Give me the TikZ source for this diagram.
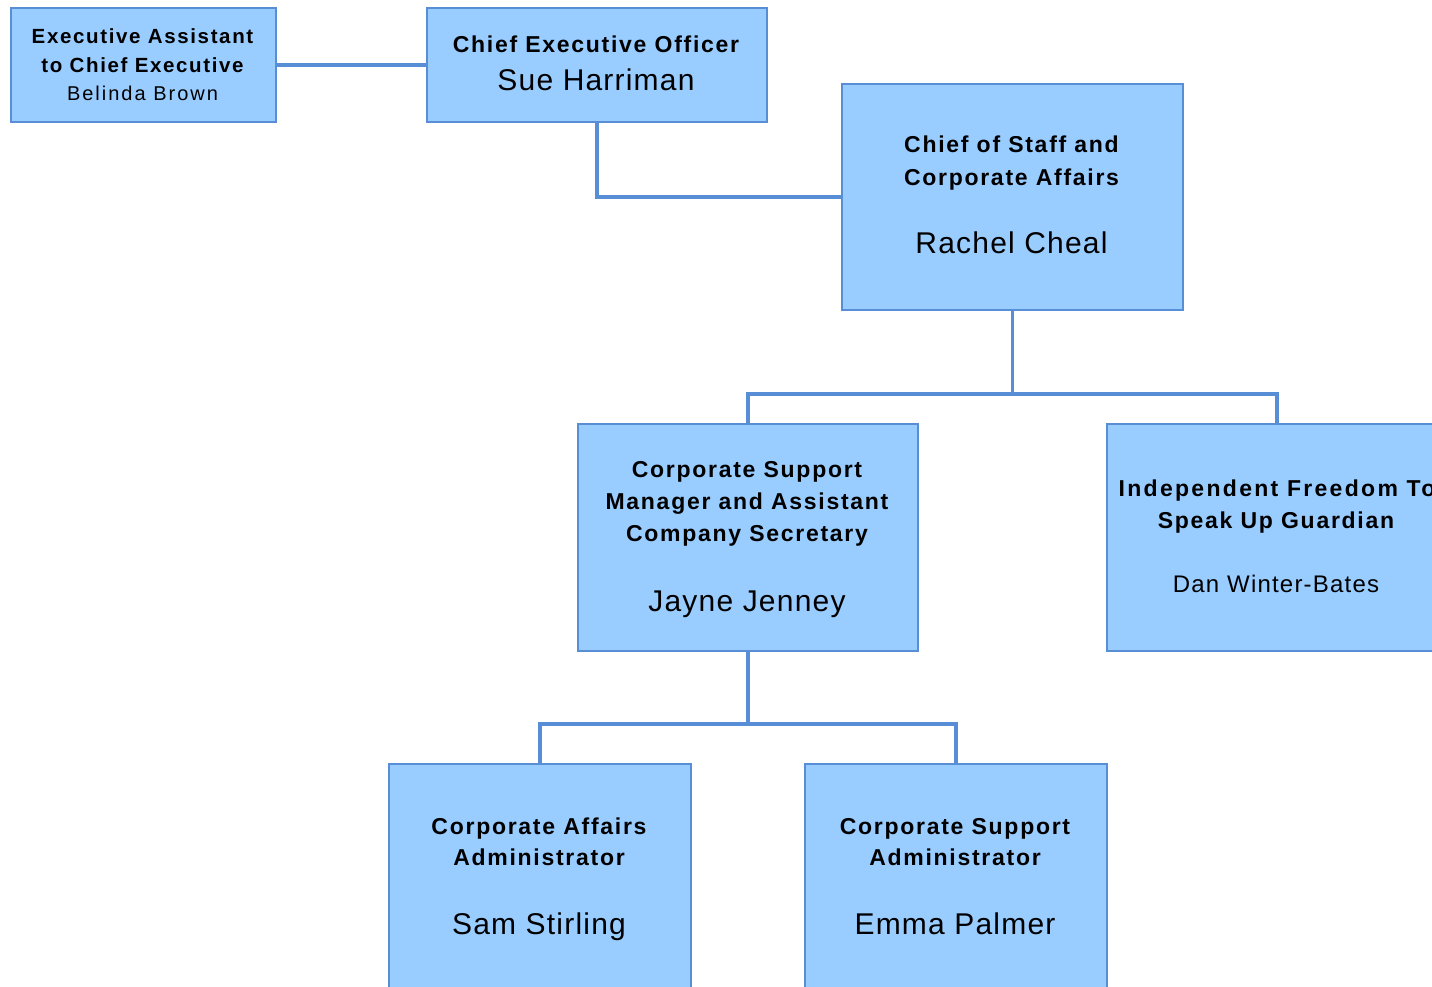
\documentclass[tikz,border=0pt]{standalone}
\usepackage{fontspec}
\setmainfont{Liberation Sans}
\newfontfamily\titlefam[LetterSpace=7.5]{Liberation Sans}
\newfontfamily\widetitlefam[LetterSpace=10]{Liberation Sans}
\newfontfamily\namefam[LetterSpace=4]{Liberation Sans}
\newfontfamily\smallfam[LetterSpace=8]{Liberation Sans}
\newfontfamily\smallnfam[LetterSpace=10]{Liberation Sans}
\newfontfamily\midfam[LetterSpace=5]{Liberation Sans}
\definecolor{boxfill}{RGB}{153,204,255}
\definecolor{boxline}{RGB}{88,142,214}
\tikzset{
  orgbox/.style={draw=boxline, fill=boxfill, line width=2pt, anchor=north west, inner sep=0pt},
  conn/.style={draw=boxline, line width=3.4pt},
  ttl/.style={anchor=base, inner sep=0pt, font=\titlefam\bfseries\fontsize{23}{27}\selectfont},
  wttl/.style={anchor=base, inner sep=0pt, font=\widetitlefam\bfseries\fontsize{23}{27}\selectfont},
  nme/.style={anchor=base, inner sep=0pt, font=\namefam\fontsize{30}{34}\selectfont},
  sttl/.style={anchor=base, inner sep=0pt, font=\smallfam\bfseries\fontsize{20.5}{24}\selectfont},
  snme/.style={anchor=base, inner sep=0pt, font=\smallnfam\fontsize{20}{24}\selectfont},
  mnme/.style={anchor=base, inner sep=0pt, font=\midfam\fontsize{24}{28}\selectfont},
}
\begin{document}
\begin{tikzpicture}[x=1pt, y=-1pt]
\useasboundingbox (0,0) rectangle (1432,986);
\clip (0,0) rectangle (1432,986);
% boxes
\node[orgbox, minimum width=265pt, minimum height=114pt] (ea) at (10,7) {};
\node[orgbox, minimum width=340pt, minimum height=114pt] (ceo) at (426,7) {};
\node[orgbox, minimum width=341pt, minimum height=226pt] (cos) at (841,83) {};
\node[orgbox, minimum width=340pt, minimum height=227pt] (csm) at (577,423) {};
\node[orgbox, minimum width=340pt, minimum height=227pt] (ifg) at (1106,423) {};
\node[orgbox, minimum width=302pt, minimum height=227pt] (caa) at (388,763) {};
\node[orgbox, minimum width=302pt, minimum height=227pt] (csa) at (804,763) {};
% connectors
\coordinate (j1) at (0,394);
\coordinate (j2) at (0,724);
\draw[conn] (ea.east) -- (ceo.west);
\draw[conn] (ceo.south) |- (cos.west);
\draw[conn] (cos.south) -- (cos.south |- j1) -| (csm.north);
\draw[conn] (cos.south |- j1) -| (ifg.north);
\draw[conn] (csm.south) -- (csm.south |- j2) -| (caa.north);
\draw[conn] (csm.south |- j2) -| (csa.north);
% texts
\node[sttl] (ea1) at (142.5,43) {Executive Assistant};
\node[sttl] (ea2) at (142.5,72) {to Chief Executive};
\node[snme] (ea3) at (142.5,100) {Belinda Brown};
\node[ttl] (ceo1) at (596,52.7) {Chief Executive Officer};
\node[nme] (ceo2) at (596,90) {Sue Harriman};
\node[ttl] (cos1) at (1011.5,152.5) {Chief of Staff and};
\node[ttl] (cos2) at (1011.5,185) {Corporate Affairs};
\node[nme] (cos3) at (1011.5,253.3) {Rachel Cheal};
\node[ttl] (csm1) at (747,477.3) {Corporate Support};
\node[ttl] (csm2) at (747,509.5) {Manager and Assistant};
\node[ttl] (csm3) at (747,541.7) {Company Secretary};
\node[nme] (csm4) at (747,611) {Jayne Jenney};
\node[wttl] (ifg1) at (1277,496) {Independent Freedom To};
\node[ttl] (ifg2) at (1276,528) {Speak Up Guardian};
\node[mnme] (ifg3) at (1276,592.7) {Dan Winter-Bates};
\node[ttl] (caa1) at (539,834) {Corporate Affairs};
\node[ttl] (caa2) at (539,865.7) {Administrator};
\node[nme] (caa3) at (539,934) {Sam Stirling};
\node[ttl] (csa1) at (955,834) {Corporate Support};
\node[ttl] (csa2) at (955,865.7) {Administrator};
\node[nme] (csa3) at (955,934) {Emma Palmer};
\end{tikzpicture}
\end{document}
